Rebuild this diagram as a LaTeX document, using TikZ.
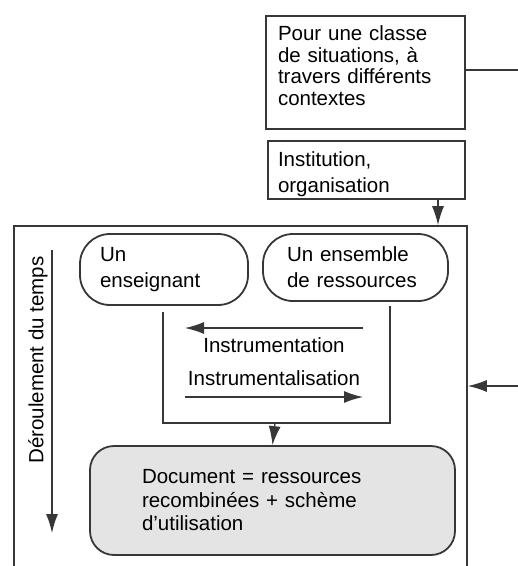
\documentclass[tikz,border=0pt]{standalone}
\usepackage{fontspec}
\setmainfont{Liberation Sans}
\usepackage{tikz}
\usetikzlibrary{arrows.meta,positioning}

\definecolor{trait}{RGB}{55,55,55}
\definecolor{fond}{RGB}{228,228,228}

\tikzset{
  boite/.style={draw=trait, line width=1.8pt, rectangle, align=left, inner sep=0pt,
    font=\fontsize{20.5}{26}\selectfont},
  ovale/.style={boite, rounded corners=30pt},
  fleche/.style={draw=trait, line width=1.3pt, -{Latex[length=19pt,width=12pt]}},
}

\begin{document}
\begin{tikzpicture}[x=1pt, y=-1pt]
        \useasboundingbox (0,0) rectangle (518,566);
        \clip (0,0) rectangle (518,566);

        \node[boite, font=\fontsize{20.5}{21.5}\selectfont, text depth=78pt, minimum width=199pt, minimum height=113pt, text width=175pt] (sit) at (365.5,72.5)
            {Pour une classe\\de situations, \`a\\travers diff\'erents\\contextes};
        \node[boite, text height=23pt, minimum width=197pt, minimum height=58pt, text width=177pt] (inst) at (366.5,170)
            {Institution,\\organisation};
        \node[boite, line width=1.6pt, minimum width=453pt, minimum height=354pt] (cadre) at (240.5,403) {};

        \node[ovale, minimum width=168pt, minimum height=71pt, text width=128pt] (ens) at (164,269.5)
            {Un\\enseignant};
        \node[ovale, minimum width=185pt, minimum height=67pt, text width=137pt] (res) at (355.5,267.5)
            {Un ensemble\\de ressources};
        \node[ovale, fill=fond, font=\fontsize{20.5}{23.5}\selectfont, rounded corners=24pt, minimum width=365pt, minimum height=109pt, text width=261pt] (doc) at (272.5,500.5)
            {Document = ressources\\recombin\'ees + sch\`eme\\d'utilisation};

        \node[rotate=90, font=\fontsize{20.5}{23}\selectfont] (temps) at (38,360) {D\'eroulement du temps};

        \coordinate (sortie) at (518,70);
        \coordinate (entree) at (518,386);
        \coordinate (uG) at (163,312);
        \coordinate (uD) at (390,306);
        \coordinate (uB) at (275,423);
        \coordinate (t1) at (52,250);
        \coordinate (t2) at (52,533);
        \coordinate (a1) at (363,328);
        \coordinate (a2) at (185,328);
        \coordinate (b1) at (185,397);
        \coordinate (b2) at (363,397);

        % liens entre les boites
        \draw[draw=trait, line width=1.6pt] (sit.east |- sortie) -- (sortie);
        \draw[fleche] ([xshift=71.5pt]inst.south) -- ([xshift=71.5pt]inst.south |- cadre.north);
        \draw[fleche] (entree) -- (entree -| cadre.east);
        \draw[fleche] (t1) -- (t2);
        \draw[draw=trait, line width=1.6pt] (uG) |- (uD |- uB) -- (uD);
        \draw[fleche] (uB) -- (doc.north);

        \draw[fleche] (a1) -- node[below=6pt, font=\fontsize{20.5}{23}\selectfont] (instru) {Instrumentation} (a2);
        \draw[fleche] (b1) -- node[above=7pt, font=\fontsize{20.5}{23}\selectfont] (instrl) {Instrumentalisation} (b2);
    \end{tikzpicture}
\end{document}
